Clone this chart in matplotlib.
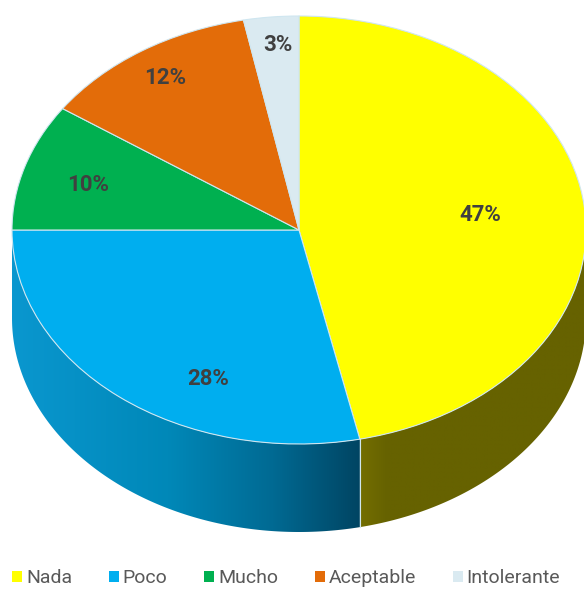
import numpy as np
import matplotlib
matplotlib.use('Agg')
import matplotlib.pyplot as plt
from matplotlib.colors import LinearSegmentedColormap
from matplotlib.patches import Polygon

labels = ['Nada', 'Poco', 'Mucho', 'Aceptable', 'Intolerante']
# they round to the printed 47/28/10/12/3
values = [46.6, 28.4, 9.6, 12.3, 3.1]
colors = ['#FFFF00', '#00AEEF', '#00B050', '#E36C09', '#DAEAF1']

# gradient of the side wall, left to right
side_colors = {0: [(0, '#736E00'), (0.12, '#666200'), (1, '#666200')],
               1: [(0, '#0A97CF'), (0.45, '#0088B8'), (0.75, '#006A93'), (1, '#004563')]}

W, H = 584, 590
CX, CY, RX, RY = 299, 230, 287, 214
DEPTH = 88 / RY

plt.rcParams['font.family'] = ['Roboto', 'DejaVu Sans']

fig = plt.figure(figsize=(W / 100, H / 100), dpi=100)
ax = fig.add_axes([0, 0, 1, 1])

edge = '#CFE6F0'
wedges, _, pcts = ax.pie(values, colors=colors, startangle=90, counterclock=False,
                         autopct='%.0f%%', radius=1,
                         wedgeprops={'edgecolor': edge, 'linewidth': 0.8, 'zorder': 5},
                         textprops={'fontsize': 16, 'fontweight': 'bold', 'color': '#404040', 'zorder': 6})

# pie fills the ellipse: unit circle stretched to RX, RY
ax.set_aspect('auto')
xlim = (-CX / RX, (W - CX) / RX)
ylim = (-(H - CY) / RY, CY / RY)

# side wall, only the part below the horizontal
for i, w in enumerate(wedges):
    if i not in side_colors:
        continue
    # angles of the slice measured going down from 3 o'clock
    start = w.theta2 - 360 if w.theta2 > 180 else w.theta2
    stop = w.theta1 - 360 if w.theta1 > 180 else w.theta1
    start = min(start, 0)
    stop = max(stop, -180)
    t = np.radians(np.linspace(start, stop, 200))
    xs, ys = np.cos(t), np.sin(t)
    poly = np.vstack([np.column_stack([xs, ys]),
                      np.column_stack([xs[::-1], ys[::-1] - DEPTH])])
    clip = Polygon(poly, closed=True, transform=ax.transData, facecolor='none', edgecolor='none')
    ax.add_patch(clip)
    cmap = LinearSegmentedColormap.from_list('side%d' % i, side_colors[i])
    grad = np.linspace(0, 1, 256).reshape(1, -1)
    im = ax.imshow(grad, cmap=cmap, aspect='auto', zorder=2, interpolation='bilinear',
                   extent=(xs.min(), xs.max(), ys.min() - DEPTH, ys.max()))
    im.set_clip_path(clip)
    # seam between yellow and blue
    if i == 0:
        ax.plot([xs[-1], xs[-1]], [ys[-1], ys[-1] - DEPTH], color=edge, lw=0.8, zorder=3)

ax.set_xlim(xlim)
ax.set_ylim(ylim)

# percent labels, placed by eye (pixels in the picture)
label_px = [(480, 215), (208, 379), (88, 185), (165, 78), (278, 45)]
for txt, (px, py) in zip(pcts, label_px):
    txt.set_position(((px - CX) / RX, (CY - py) / RY))
    txt.set_ha('center')
    txt.set_va('center')

ax.legend(wedges, labels, ncol=5, loc='center', bbox_to_anchor=(0.49, 0.02), frameon=False,
          fontsize=14, labelcolor='#595959', handlelength=0.5, handleheight=0.5,
          handletextpad=0.2, columnspacing=1.9, borderpad=0, borderaxespad=0)
for h in ax.get_legend().get_patches():
    h.set_edgecolor('none')

fig.savefig('out.png', dpi=100)
